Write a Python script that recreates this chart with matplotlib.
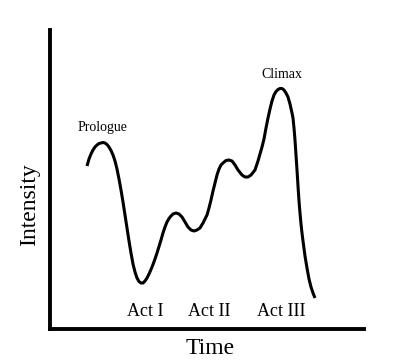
# Story arc: intensity over time

import matplotlib
matplotlib.use("Agg")
import matplotlib.pyplot as plt

plt.rcParams['font.family'] = ['Liberation Serif', 'DejaVu Serif']

# curve (time 0-314, intensity 0-299, arbitrary units)
time = [37, 39, 41, 43, 45, 47, 49, 51, 53, 55, 57, 59, 61, 63, 65, 67, 69,
        71, 73, 75, 77, 79, 81, 83, 85, 87, 89, 91, 93, 95, 97, 99, 101, 103,
        105, 107, 109, 111, 113, 115, 117, 119, 121, 123, 126, 129, 132, 135, 138,
        141, 144, 147, 150, 153, 155, 157, 159, 161, 163, 165, 167, 169, 171, 173,
        176, 179, 182, 185, 188, 192, 195, 198, 201, 205, 208, 210, 212, 214, 216,
        218, 220, 222, 224, 226, 228, 230, 232, 234, 236, 238, 240, 242, 243, 244,
        245, 246, 247, 248, 249, 250, 251, 252, 253, 255, 257, 259, 261, 263, 265]
intensity = [163, 170, 175, 179, 182, 184, 185.5, 186, 186.5, 186, 184.5, 182,
             178.5, 174, 168, 160, 150, 139, 127, 114, 101, 88, 76, 65, 57, 51,
             47.5, 46, 46, 48, 51, 55, 59.5, 64.5, 70, 76, 82.5, 89, 96, 102, 107,
             110.5, 113, 115, 116, 115, 112, 107, 102, 99, 98, 99, 101, 106, 110,
             114, 121, 129, 138, 146, 154, 160, 164, 166, 168.5, 169, 168, 164, 159,
             154, 152, 152, 154, 159, 168, 175, 182, 190, 201, 211, 220, 228, 234,
             237.5, 239.5, 240.5, 240.5, 239, 236, 232, 225, 216, 211, 201, 189,
             174, 159, 143, 128, 116, 105, 96, 88, 73, 61, 50, 42, 36, 31]

act_names = ['Act I', 'Act II', 'Act III']
act_x = [95, 159, 231]

fig = plt.figure(figsize=(3.96, 3.6), dpi=100)
ax = fig.add_axes([50 / 396, 31 / 360, 314 / 396, 299 / 360])

ax.plot(time, intensity, color='black', linewidth=2.2,
        solid_capstyle='butt', solid_joinstyle='round')

ax.text(52, 201, 'Prologue', fontsize=10, ha='center', va='center')
ax.text(232, 254, 'Climax', fontsize=10, ha='center', va='center')
for name, x in zip(act_names, act_x):
    ax.text(x, 17, name, fontsize=13, ha='center', va='center')

ax.set_xlim(0, 314)
ax.set_ylim(0, 299)
ax.set_xticks([])
ax.set_yticks([])
for side in ['top', 'right']:
    ax.spines[side].set_visible(False)
for side in ['left', 'bottom']:
    ax.spines[side].set_linewidth(2.8)
    ax.spines[side].set_capstyle('projecting')

fig.text(210 / 396, 11 / 360, 'Time', fontsize=17, ha='center', va='center')
fig.text(30 / 396, 155.5 / 360, 'Intensity', fontsize=17, rotation=90,
         ha='center', va='center')

fig.savefig('out.png', dpi=100)
